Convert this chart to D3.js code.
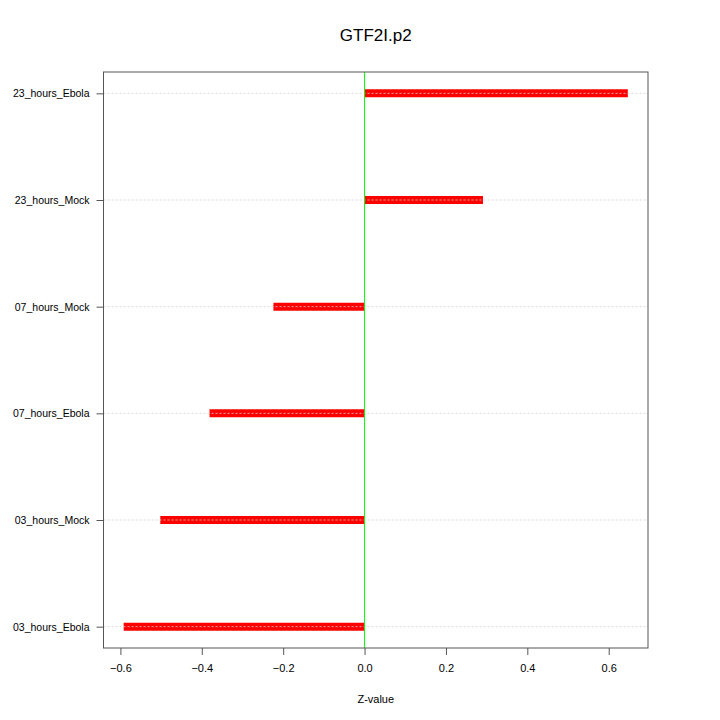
<!DOCTYPE html>
<html>
<head>
<meta charset="utf-8">
<script src="https://cdn.jsdelivr.net/npm/d3@7"></script>
<style>
  body { margin: 0; background: #fff; }
  svg text { font-family: "Liberation Sans", Arial, sans-serif; }
</style>
</head>
<body>
<div id="chart"></div>
<script>
// data
var categories = ["03_hours_Ebola", "03_hours_Mock", "07_hours_Ebola", "07_hours_Mock", "23_hours_Mock", "23_hours_Ebola"];
var zValues = [-0.592, -0.502, -0.381, -0.224, 0.291, 0.647];
var xTicks = [-0.6, -0.4, -0.2, 0.0, 0.2, 0.4, 0.6];
var title = "GTF2I.p2";
var xLabel = "Z-value";

var W = 720, H = 720;
var margin = {top: 72, right: 72, bottom: 72, left: 103.5};
var width = W - margin.left - margin.right,
    height = H - margin.top - margin.bottom;

var svg = d3.select("#chart").append("svg")
  .attr("width", W)
  .attr("height", H);

// R style 4% extension of the data range
var lo = d3.min(zValues.concat([0])), hi = d3.max(zValues.concat([0]));
var pad = (hi - lo) * 0.04;
var x = d3.scaleLinear().domain([lo - pad, hi + pad]).range([margin.left, margin.left + width]);
var y = d3.scaleLinear().domain([0.8, categories.length + 0.2]).range([margin.top + height, margin.top]);

// bars as thick red segments from zero
svg.selectAll("line.bar")
  .data(zValues)
  .enter().append("line")
  .attr("class", "bar")
  .attr("x1", x(0))
  .attr("x2", function(d) { return x(d); })
  .attr("y1", function(d, i) { return y(i + 1); })
  .attr("y2", function(d, i) { return y(i + 1); })
  .attr("stroke", "#ff0000")
  .attr("stroke-width", 8);

// dotted grid lines across the plot
svg.selectAll("line.grid")
  .data(categories)
  .enter().append("line")
  .attr("class", "grid")
  .attr("x1", margin.left)
  .attr("x2", margin.left + width)
  .attr("y1", function(d, i) { return y(i + 1); })
  .attr("y2", function(d, i) { return y(i + 1); })
  .attr("stroke", "rgba(210,210,210,0.8)")
  .attr("stroke-width", 1)
  .attr("stroke-dasharray", "2,2");

// zero line
svg.append("line")
  .attr("x1", x(0)).attr("x2", x(0))
  .attr("y1", margin.top).attr("y2", margin.top + height)
  .attr("stroke", "#00ff00")
  .attr("stroke-width", 1);

// box
svg.append("rect")
  .attr("x", margin.left).attr("y", margin.top)
  .attr("width", width).attr("height", height)
  .attr("fill", "none")
  .attr("stroke", "#555")
  .attr("stroke-width", 1);

// x axis
var xAxis = d3.axisBottom(x).tickValues(xTicks).tickFormat(d3.format(".1f")).tickSizeOuter(0).tickSize(7).tickPadding(9);
var gx = svg.append("g")
  .attr("transform", "translate(0," + (margin.top + height) + ")")
  .call(xAxis);
gx.select(".domain").remove();
gx.selectAll("line").attr("stroke", "#555");
gx.selectAll("text").attr("font-size", 11).attr("fill", "#000")
  .style("font-family", "'Liberation Sans', Arial, sans-serif");

// y axis
var yAxis = d3.axisLeft(y).tickValues(d3.range(1, categories.length + 1))
  .tickFormat(function(d) { return categories[d - 1]; })
  .tickSizeOuter(0).tickSize(7).tickPadding(7);
var gy = svg.append("g")
  .attr("transform", "translate(" + margin.left + ",0)")
  .call(yAxis);
gy.select(".domain").remove();
gy.selectAll("line").attr("stroke", "#555");
gy.selectAll("text").attr("font-size", 10.5).attr("fill", "#000")
  .style("font-family", "'Liberation Sans', Arial, sans-serif");

// title and axis label
svg.append("text")
  .attr("x", margin.left + width / 2)
  .attr("y", 41)
  .attr("text-anchor", "middle")
  .attr("font-size", 17)
  .text(title);

svg.append("text")
  .attr("x", margin.left + width / 2)
  .attr("y", 703)
  .attr("text-anchor", "middle")
  .attr("font-size", 11)
  .text(xLabel);
</script>
</body>
</html>
